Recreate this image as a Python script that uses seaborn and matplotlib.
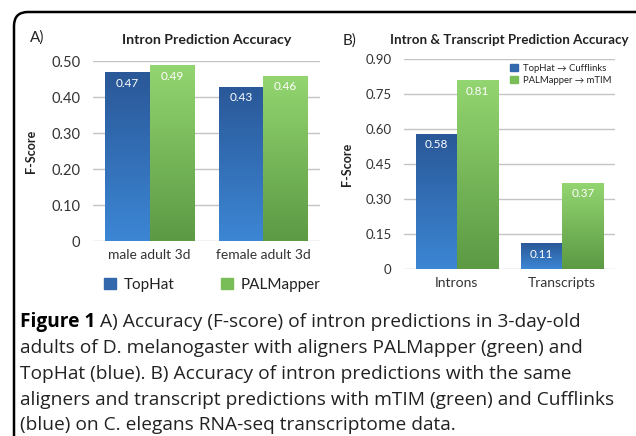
import numpy as np
import pandas as pd
import seaborn as sns
import matplotlib.pyplot as plt
from matplotlib.colors import LinearSegmentedColormap
from matplotlib.patches import Patch, FancyBboxPatch
from matplotlib.transforms import IdentityTransform

sns.set_theme(style="white")
plt.rcParams['font.family'] = ['Lato', 'DejaVu Sans']

# data
tools_a = ["TopHat", "PALMapper"]
samples_a = ["male adult 3d", "female adult 3d"]
tophat_a = [0.47, 0.43]
palmapper_a = [0.49, 0.46]

tools_b = ["TopHat \u2192 Cufflinks", "PALMapper \u2192 mTIM"]
samples_b = ["Introns", "Transcripts"]
tophat_b = [0.58, 0.11]
palmapper_b = [0.81, 0.37]

caption = [
    "A) Accuracy (F-score) of intron predictions in 3-day-old",
    "adults of D. melanogaster with aligners PALMapper (green) and",
    "TopHat (blue). B) Accuracy of intron predictions with the same",
    "aligners and transcript predictions with mTIM (green) and Cufflinks",
    "(blue) on C. elegans RNA-seq transcriptome data.",
]

blue = "#3468ad"
green = "#78bd57"
# gradient (bottom, top) per series
grads = [("#3c86d4", "#2a5898"), ("#5c9a44", "#93d570")]

W, H = 636, 436
fig = plt.figure(figsize=(W / 100, H / 100), dpi=100)


def px(x0, y0, x1, y1):
    return [x0 / W, 1 - y1 / H, (x1 - x0) / W, (y1 - y0) / H]


def draw_panel(ax, cats, tools, s1, s2, ymax, ticks, ticklabels, ytick_fs):
    df = pd.DataFrame({
        "cat": cats * 2,
        "tool": [tools[0]] * len(cats) + [tools[1]] * len(cats),
        "val": s1 + s2,
    })
    sns.barplot(data=df, x="cat", y="val", hue="tool", palette=[blue, green],
                width=0.78, legend=False, ax=ax, saturation=1, zorder=2)
    grad = np.linspace(0, 1, 64).reshape(-1, 1)
    for i, cont in enumerate(ax.containers):
        cmap = LinearSegmentedColormap.from_list("g%d" % i, list(grads[i]))
        for bar in cont:
            x0, y0 = bar.get_x(), bar.get_y()
            w, h = bar.get_width(), bar.get_height()
            im = ax.imshow(grad, extent=[x0, x0 + w, y0, y0 + h], origin="lower",
                           cmap=cmap, aspect="auto", zorder=2)
            im.set_clip_path(bar)
            bar.set_facecolor("none")
            bar.set_edgecolor("none")
            ax.annotate("%.2f" % h, (x0 + w / 2, h), xytext=(0, -8),
                        textcoords="offset points", ha="center", va="center",
                        color="white", fontsize=8.5, zorder=3)
    ax.set_xlim(-0.5, len(cats) - 0.5)
    ax.set_ylim(0, ymax)
    ax.set_yticks(ticks)
    ax.set_yticklabels(ticklabels)
    ax.grid(axis="y", color="#c4c4c4", lw=1)
    ax.set_axisbelow(True)
    for s in ax.spines.values():
        s.set_visible(False)
    ax.tick_params(axis="y", length=0, pad=9, labelsize=ytick_fs, labelcolor="#333333")
    ax.tick_params(axis="x", length=0, pad=6, labelsize=10, labelcolor="#333333")
    ax.set_xlabel("")
    ax.set_ylabel("F-Score", fontsize=9, fontweight="bold", color="#222222")


# panel A
axA = fig.add_axes(px(93, 61, 320, 241))
draw_panel(axA, samples_a, tools_a, tophat_a, palmapper_a, 0.501,
           [0, 0.1, 0.2, 0.3, 0.4, 0.5], ["0", "0.10", "0.20", "0.30", "0.40", "0.50"],
           10.5)
axA.yaxis.set_label_coords(-0.245, 0.5)
axA.set_title("Intron Prediction Accuracy", fontsize=10.2, fontweight="bold",
              color="#222222", pad=12)
axA.legend(handles=[Patch(color=blue, label=tools_a[0]), Patch(color=green, label=tools_a[1])],
           ncol=2, loc="upper left", bbox_to_anchor=(0.02, -0.17), frameon=False,
           fontsize=11, handlelength=0.8, handleheight=0.8, handletextpad=0.5,
           columnspacing=3.05, borderaxespad=0, labelcolor="#222222")

# panel B
axB = fig.add_axes(px(404, 59, 615, 269))
draw_panel(axB, samples_b, tools_b, tophat_b, palmapper_b, 0.9,
           [0, 0.15, 0.3, 0.45, 0.6, 0.75, 0.9],
           ["0", "0.15", "0.30", "0.45", "0.60", "0.75", "0.90"], 9.5)
axB.yaxis.set_label_coords(-0.24, 0.5)
axB.set_title("Intron & Transcript Prediction Accuracy", fontsize=9.6, fontweight="bold",
              color="#222222", pad=11)
axB.legend(handles=[Patch(color=blue, label=tools_b[0]), Patch(color=green, label=tools_b[1])],
           loc="upper right", bbox_to_anchor=(1.0, 0.995), frameon=False, fontsize=6.8,
           handlelength=0.8, handleheight=0.8, handletextpad=0.5, labelspacing=0.35,
           borderaxespad=0, labelcolor="#222222")

fig.text(30 / W, 1 - 38 / H, "A)", fontsize=11, va="center", color="#222222")
fig.text(343 / W, 1 - 41 / H, "B)", fontsize=11, va="center", color="#222222")

# frame (pixel coordinates, bottom/right run off the canvas)
frame = FancyBboxPatch((14, -60), W + 40, H - 12 + 60,
                       boxstyle="round,pad=0,rounding_size=14",
                       transform=IdentityTransform(), fill=False, lw=1.8,
                       edgecolor="black", clip_on=False)
fig.add_artist(frame)

# caption
cap_font = "Open Sans"
fs = 12.0
ys = [322, 348, 374, 400, 425]
fig.canvas.draw()
r = fig.canvas.get_renderer()
t0 = fig.text(20 / W, 1 - ys[0] / H, "Figure 1", fontsize=fs, fontweight="bold",
              family=cap_font, va="center", color="black")
texts = [fig.text(20 / W, 1 - y / H, line, fontsize=fs, family=cap_font,
                  va="center", color="#222222") for line, y in zip(caption, ys)]
gap = 5
widths = [t0.get_window_extent(renderer=r).width + gap + texts[0].get_window_extent(renderer=r).width]
widths += [t.get_window_extent(renderer=r).width for t in texts[1:]]
fs = fs * (610 - 20) / max(widths)
t0.set_fontsize(fs)
for t in texts:
    t.set_fontsize(fs)
bb0 = t0.get_window_extent(renderer=r)
texts[0].set_x((bb0.x1 + gap) / W)

fig.savefig("out.png", dpi=100)
